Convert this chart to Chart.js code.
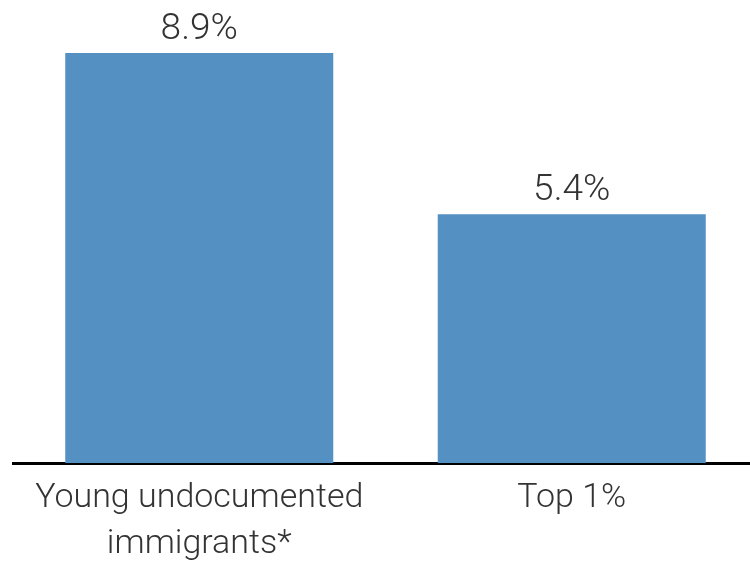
<!DOCTYPE html>
<html>
<head>
<meta charset="utf-8">
<script src="https://cdn.jsdelivr.net/npm/chart.js@4"></script>
<style>
  html, body { margin: 0; padding: 0; background: #fff; overflow: hidden; }
  #wrap { position: relative; width: 758px; height: 561px; }
</style>
</head>
<body>
<div id="wrap"><canvas id="c"></canvas></div>
<script>
const categories = [["Young undocumented", "immigrants*"], "Top 1%"];
const values = [8.9, 5.4];
const valueLabels = ["8.9%", "5.4%"];

const barColor = "#5590c3";
const textColor = "#333333";

const valueLabelPlugin = {
  id: "valueLabels",
  afterDatasetsDraw(chart) {
    const ctx = chart.ctx;
    const meta = chart.getDatasetMeta(0);
    ctx.save();
    ctx.font = "300 37px Roboto";
    ctx.fillStyle = textColor;
    ctx.textAlign = "center";
    ctx.textBaseline = "alphabetic";
    meta.data.forEach((bar, i) => {
      ctx.fillText(valueLabels[i], bar.x, bar.y - 14);
    });
    ctx.restore();
  }
};

new Chart(document.getElementById("c"), {
  type: "bar",
  data: {
    labels: categories,
    datasets: [{
      data: values,
      backgroundColor: barColor,
      borderWidth: 0,
      categoryPercentage: 1,
      barPercentage: 0.7195
    }]
  },
  options: {
    responsive: true,
    maintainAspectRatio: false,
    animation: false,
    events: [],
    layout: { padding: { top: 48.4, left: 13, right: 0, bottom: 0 } },
    plugins: { legend: { display: false }, tooltip: { enabled: false } },
    scales: {
      x: {
        grid: { display: false, drawTicks: false },
        border: { display: true, color: "#000", width: 3 },
        ticks: {
          color: textColor,
          font: { family: "Roboto", size: 34, weight: 300, lineHeight: 1.35 },
          padding: 13,
          maxRotation: 0,
          autoSkip: false
        },
        afterFit(scale) { scale.height = 98; }
      },
      y: {
        display: false,
        min: 0,
        max: 9
      }
    }
  },
  plugins: [valueLabelPlugin]
});
</script>
</body>
</html>
